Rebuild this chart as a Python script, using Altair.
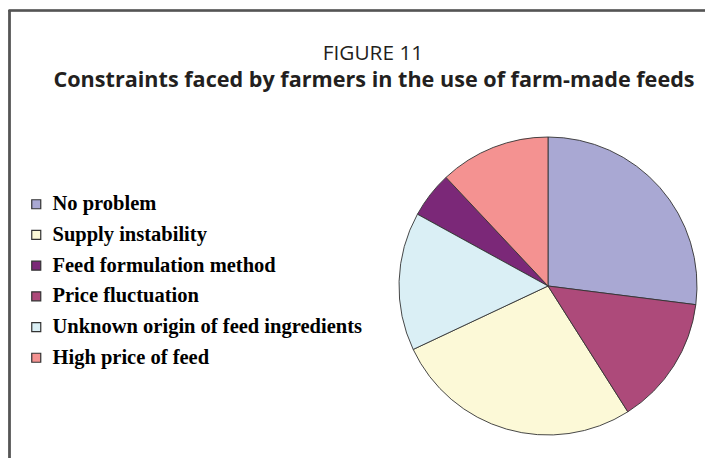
import altair as alt
import pandas as pd

title_text = "FIGURE 11"
subtitle_text = "Constraints faced by farmers in the use of farm-made feeds"

categories = [
    "No problem",
    "Supply instability",
    "Feed formulation method",
    "Price fluctuation",
    "Unknown origin of feed ingredients",
    "High price of feed",
]
values = [27, 27, 5, 14, 15, 12]
pie_order = [1, 3, 5, 2, 4, 6]
colors = ["#A9A8D3", "#FCF9D7", "#7B2878", "#AD4A7A", "#DAEFF5", "#F49291"]

df = pd.DataFrame({"category": categories, "value": values, "pie_order": pie_order})

W, H, TOP = 697, 340, 110

pie = alt.Chart(df).mark_arc(
    stroke="#333333", strokeWidth=0.9, radius=149
).encode(
    theta=alt.Theta("value:Q", stack=True),
    order=alt.Order("pie_order:Q"),
    color=alt.Color(
        "category:N",
        scale=alt.Scale(domain=categories, range=colors),
        legend=alt.Legend(
            title=None,
            orient="none",
            legendX=18,
            legendY=76,
            symbolType="square",
            symbolSize=81,
            symbolStrokeColor="#333333",
            symbolStrokeWidth=1.2,
            labelFont="Liberation Serif",
            labelFontWeight="bold",
            labelFontSize=20.5,
            labelColor="#000000",
            labelOffset=6,
            labelLimit=400,
            rowPadding=9.7,
        ),
    ),
    x=alt.value(540),
    y=alt.value(168),
)

title_mark = alt.Chart(pd.DataFrame({"t": [title_text]})).mark_text(
    font="Open Sans", fontSize=20.8, fontWeight="normal", color="#231f20",
    align="center", baseline="alphabetic"
).encode(text="t:N", x=alt.value(365), y=alt.value(-58.5))

subtitle_mark = alt.Chart(pd.DataFrame({"t": [subtitle_text]})).mark_text(
    font="Open Sans", fontSize=21.6, fontWeight="bold", color="#231f20",
    align="center", baseline="alphabetic"
).encode(text="t:N", x=alt.value(366), y=alt.value(-31.5))

left_rule = alt.Chart(df).mark_rule(color="#555555", strokeWidth=1.6).encode(
    x=alt.value(1.5), y=alt.value(-107.5), y2=alt.value(H + 5)
)
top_rule = alt.Chart(df).mark_rule(color="#555555", strokeWidth=1.6).encode(
    x=alt.value(0.7), x2=alt.value(W + 5), y=alt.value(-107.5)
)

chart = alt.layer(left_rule, top_rule, title_mark, subtitle_mark, pie).properties(
    width=W,
    height=H,
    padding={"left": 0, "right": 0, "top": TOP, "bottom": 0},
    autosize=alt.AutoSizeParams(type="none"),
).configure_view(stroke=None)

chart.save("out.html", embed_options={"renderer": "svg", "actions": False})
